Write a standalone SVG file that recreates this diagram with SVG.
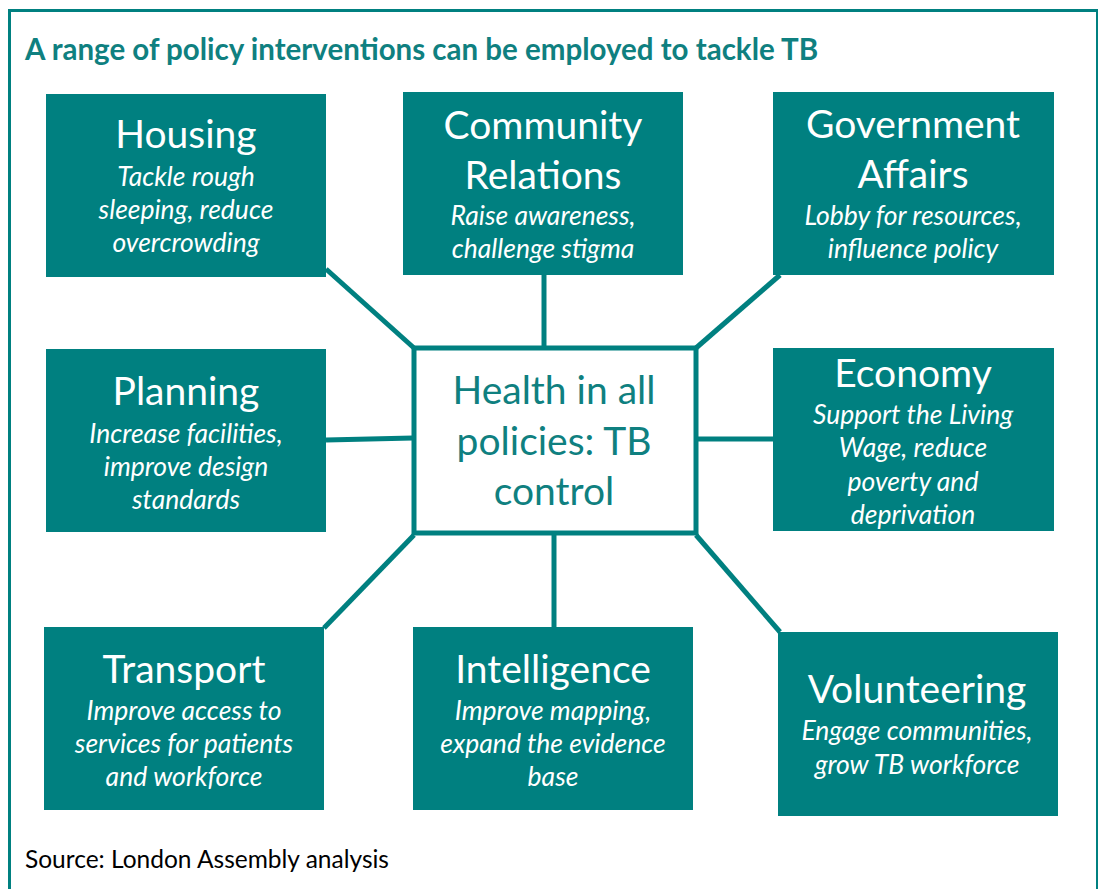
<svg xmlns="http://www.w3.org/2000/svg" width="1098" height="889" viewBox="0 0 1098 889">
<style>
.frame{fill:none;stroke:#008080;stroke-width:3}
.box{fill:#008080}
.center{fill:#fff;stroke:#008080;stroke-width:5}
.conn{stroke:#008080;stroke-width:5;fill:none}
text{font-family:Lato,"Liberation Sans",sans-serif;text-anchor:middle}
.title{fill:#fff;font-size:39px}
.sub{fill:#fff;font-size:26.5px;font-style:italic}
.ctext{fill:#0f8080;font-size:39px}
.head{fill:#0f8080;font-size:29.5px;font-weight:bold;text-anchor:start}
.src{fill:#000;font-size:24.5px;text-anchor:start}
</style>
<rect x="0" y="0" width="1098" height="889" fill="#fff"/>
<path class="frame" d="M9.5 889 V10.5 H1097.5 V889"/>
<text class="head" x="25" y="60">A range of policy interventions can be employed to tackle TB</text>
<g id="connectors">
<line class="conn" x1="326" y1="269" x2="414" y2="348"/>
<line class="conn" x1="544" y1="275" x2="544" y2="347"/>
<line class="conn" x1="780" y1="275" x2="696" y2="348"/>
<line class="conn" x1="326" y1="440" x2="413" y2="438"/>
<line class="conn" x1="696" y1="439" x2="773" y2="439"/>
<line class="conn" x1="324" y1="628" x2="414" y2="535"/>
<line class="conn" x1="554" y1="533" x2="554" y2="627"/>
<line class="conn" x1="696" y1="535" x2="780" y2="632"/>
</g>
<g id="center">
<rect class="center" x="414" y="348" width="282" height="185"/>
<text class="ctext" x="554" y="404">Health in all</text>
<text class="ctext" x="554" y="455">policies: TB</text>
<text class="ctext" x="554" y="505">control</text>
</g>
<g id="housing">
<rect class="box" x="46" y="94" width="280" height="183"/>
<text class="title" x="186" y="148">Housing</text>
<text class="sub" x="186" y="186">Tackle rough</text>
<text class="sub" x="186" y="219">sleeping, reduce</text>
<text class="sub" x="186" y="252">overcrowding</text>
</g>
<g id="community">
<rect class="box" x="403" y="92" width="280" height="183"/>
<text class="title" x="543" y="139">Community</text>
<text class="title" x="543" y="189">Relations</text>
<text class="sub" x="543" y="225">Raise awareness,</text>
<text class="sub" x="543" y="258">challenge stigma</text>
</g>
<g id="government">
<rect class="box" x="773" y="92" width="281" height="183"/>
<text class="title" x="913" y="138">Government</text>
<text class="title" x="913" y="188">Affairs</text>
<text class="sub" x="913" y="225">Lobby for resources,</text>
<text class="sub" x="913" y="258">influence policy</text>
</g>
<g id="planning">
<rect class="box" x="46" y="349" width="280" height="183"/>
<text class="title" x="186" y="405">Planning</text>
<text class="sub" x="186" y="443">Increase facilities,</text>
<text class="sub" x="186" y="476">improve design</text>
<text class="sub" x="186" y="509">standards</text>
</g>
<g id="economy">
<rect class="box" x="773" y="348" width="281" height="183"/>
<text class="title" x="913" y="387">Economy</text>
<text class="sub" x="913" y="424">Support the Living</text>
<text class="sub" x="913" y="457">Wage, reduce</text>
<text class="sub" x="913" y="491">poverty and</text>
<text class="sub" x="913" y="524">deprivation</text>
</g>
<g id="transport">
<rect class="box" x="44" y="627" width="280" height="183"/>
<text class="title" x="184" y="683">Transport</text>
<text class="sub" x="184" y="720">Improve access to</text>
<text class="sub" x="184" y="753">services for patients</text>
<text class="sub" x="184" y="786">and workforce</text>
</g>
<g id="intelligence">
<rect class="box" x="413" y="627" width="280" height="183"/>
<text class="title" x="553" y="683">Intelligence</text>
<text class="sub" x="553" y="720">Improve mapping,</text>
<text class="sub" x="553" y="753">expand the evidence</text>
<text class="sub" x="553" y="786">base</text>
</g>
<g id="volunteering">
<rect class="box" x="778" y="632" width="280" height="184"/>
<text class="title" x="917" y="703">Volunteering</text>
<text class="sub" x="917" y="740">Engage communities,</text>
<text class="sub" x="917" y="774">grow TB workforce</text>
</g>
<text class="src" x="25" y="868">Source: London Assembly analysis</text>
</svg>
